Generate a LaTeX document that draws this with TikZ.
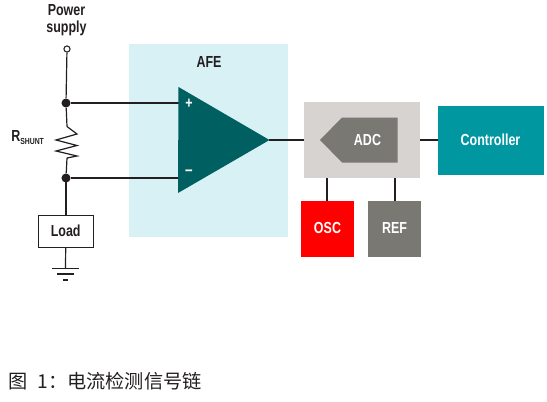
\documentclass[tikz,border=0pt]{standalone}
\usepackage{fontspec}
\setmainfont[FakeStretch=0.78]{Liberation Sans}
\newfontfamily\cjkf{Noto Sans CJK SC}
\definecolor{afebg}{HTML}{D8F1F5}
\definecolor{ampc}{HTML}{005F60}
\definecolor{adcbg}{HTML}{D6D3D0}
\definecolor{adcc}{HTML}{7A7873}
\definecolor{ctrlc}{HTML}{0097A0}
\definecolor{inkc}{HTML}{231F20}
\tikzset{
  px/.style={x=0.75pt,y=-0.75pt},
  wire/.style={draw=inkc,line width=1.5pt},
  thin wire/.style={draw=inkc,line width=0.9pt},
  junction/.style={circle,fill=inkc,inner sep=0pt,minimum size=6.8pt},
  block/.style={inner sep=0pt,text=white,font=\bfseries\fontsize{12}{14}\selectfont},
  label/.style={inner sep=0pt,text=inkc,font=\bfseries\fontsize{12}{14}\selectfont,align=center},
}
\newcommand{\boxat}[6]{% name, fill, x1, y1, x2, y2 
  \node[block,fill=#2,minimum width=#5*0.75pt-#3*0.75pt,minimum height=#6*0.75pt-#4*0.75pt,anchor=north west] (#1) at (#3,#4) {};}
\begin{document}
\begin{tikzpicture}[px]
\useasboundingbox (0,0) rectangle (547,401);
% background panels
\boxat{afe}{afebg}{129}{44}{288}{237}
\boxat{adcbox}{adcbg}{304}{102}{420}{178}
\boxat{ctrl}{ctrlc}{438}{106}{544}{175}
\boxat{osc}{red}{301}{201}{354}{257}
\boxat{ref}{adcc}{368}{201}{421}{257}
% named points
\coordinate (ampP) at (179,103);
\coordinate (ampN) at (179,178);
\coordinate (ampO) at (269,140);
\coordinate (rtop) at (67,126.5);
\coordinate (rbot) at (67,158);
\coordinate (gnd) at (65.5,268.5);
\coordinate (adcL) at (304,140);
\coordinate (adcR) at (420,140);
\coordinate (oscT) at (327,201);
\coordinate (oscB) at (327,178);
\coordinate (refT) at (395,201);
\coordinate (refB) at (395,178);
% nodes
\node[circle,draw=inkc,fill=white,line width=0.8pt,inner sep=0pt,minimum size=4.6pt] (vin) at (67,49) {};
\node[junction] (j1) at (66,103) {};
\node[junction] (j2) at (66,178) {};
\node[draw=inkc,fill=white,line width=0.7pt,minimum width=41.5pt,minimum height=24pt,inner sep=0pt,text=inkc,font=\bfseries\fontsize{12}{14}\selectfont] (load) at (65.7,231) {Load};
% connectors
\draw[thin wire] (vin) -- (j1);
\draw[thin wire] (j1) -- (rtop);
\draw[thin wire] (rbot) -- (j2);
\draw[thin wire] (j2.center) -- (load.north -| j2.center);
\draw[thin wire] (load.south) -- (gnd);
\draw[wire] (j1) -- (ampP);
\draw[wire] (j2) -- (ampN);
\draw[wire] (ampO) -- (adcL);
\draw[wire] (adcR) -- (ctrl.west |- adcR);
\draw[wire] (oscB) -- (oscT);
\draw[wire] (refB) -- (refT);
% resistor
\draw[draw=inkc,line width=0.9pt,line join=miter] (rtop) -- (77,134) -- (56,140) -- (77,145.5) -- (56,151) -- (77,156) -- (rbot);
% ground
\draw[draw=inkc,line width=1.3pt] (52,268.5) -- (79,268.5);
\draw[draw=inkc,line width=1.3pt] (57,273.8) -- (74,273.8);
\draw[draw=inkc,line width=1.4pt] (63,279.7) -- (68,279.7);
% amplifier
\fill[ampc] (178.5,87) -- (269.5,140) -- (178,193) -- cycle;
\node[inner sep=0pt,text=white,font=\bfseries\fontsize{12}{14}\selectfont] (plus) at (189,103.5) {+};
\node[inner sep=0pt,text=white,font=\bfseries\fontsize{13}{14}\selectfont] (minus) at (189,173) {–};
% ADC
\fill[adcc] (320,140) -- (342,117.5) -- (397.5,117.5) -- (397.5,162.5) -- (342,162.5) -- cycle;
% labels
\node[block] (adct) at (367.5,140) {ADC};
\node[block] (ctrlt) at (490.5,139.5) {Controller};
\node[block] (osct) at (327.5,228) {OSC};
\node[block] (reft) at (394.5,228) {REF};
\node[label] (afet) at (209,62) {AFE};
\node[label] (pw1) at (66.5,10) {Power};
\node[label] (pw2) at (66.5,28) {supply};
\node[label,anchor=base west] (rs) at (11,141) {R\raisebox{-0.4ex}{\fontsize{6.6}{8}\selectfont SHUNT}};
\node[inner sep=0pt,anchor=base west,text=inkc,font=\cjkf\fontsize{14.4}{16}\selectfont] (cap) at (8,388.5) {图\hspace{7.5pt}1：电流检测信号链};
\end{tikzpicture}
\end{document}
